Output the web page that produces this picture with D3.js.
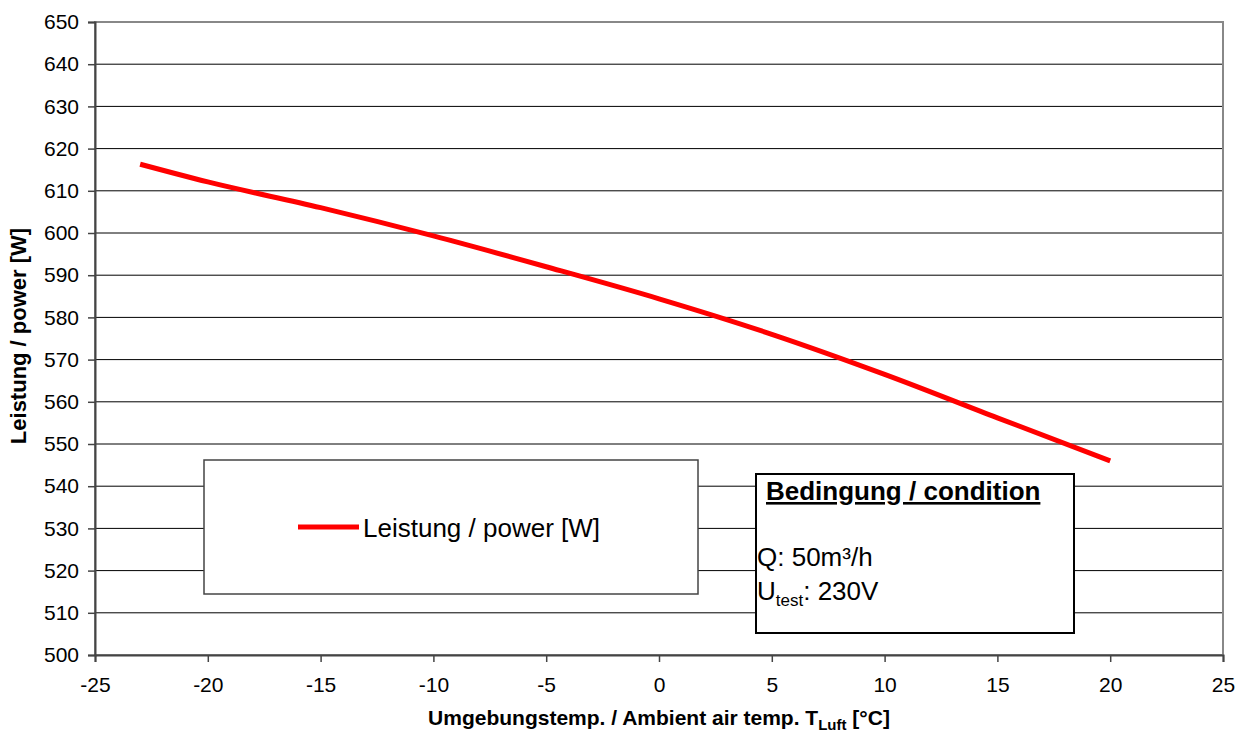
<!DOCTYPE html>
<html>
<head>
<meta charset="utf-8">
<script src="https://cdn.jsdelivr.net/npm/d3@7"></script>
<style>
  body { margin: 0; background: #fff; }
  svg { font-family: Arial, "Liberation Sans", sans-serif; }
</style>
</head>
<body>
<svg id="chart" width="1238" height="734"></svg>
<script>
// Data
const temps = [-23, -20, -15, -10, -5, 0, 5, 10, 15, 20];
const power = [616.3, 612.1, 606.0, 599.3, 592.0, 584.4, 576.0, 566.5, 556.2, 546.0];
const xTicks = [-25, -20, -15, -10, -5, 0, 5, 10, 15, 20, 25];
const yTicks = [500, 510, 520, 530, 540, 550, 560, 570, 580, 590, 600, 610, 620, 630, 640, 650];

const svg = d3.select("#chart");

// Plot area
const plotLeft = 95, plotRight = 1223, plotTop = 22, plotBottom = 655;

const x = d3.scaleLinear().domain([-25, 25]).range([plotLeft, plotRight]);
const y = d3.scaleLinear().domain([500, 650]).range([plotBottom, plotTop]);

// Grid lines
svg.append("g")
  .selectAll("line")
  .data(yTicks.filter(d => d > 500 && d < 650))
  .enter().append("line")
  .attr("x1", plotLeft).attr("x2", plotRight)
  .attr("y1", d => y(d)).attr("y2", d => y(d))
  .attr("stroke", "#000")
  .attr("stroke-width", 1);

// Plot border (top / right)
svg.append("rect")
  .attr("x", plotLeft).attr("y", plotTop)
  .attr("width", plotRight - plotLeft).attr("height", plotBottom - plotTop)
  .attr("fill", "none")
  .attr("stroke", "#888")
  .attr("stroke-width", 2);

// X Axis
const xAxis = svg.append("g")
  .attr("transform", "translate(0," + plotBottom + ")")
  .call(d3.axisBottom(x).tickValues(xTicks).tickSize(7).tickPadding(15).tickFormat(d => String(d)));

// Y Axis
const yAxis = svg.append("g")
  .attr("transform", "translate(" + plotLeft + ",0)")
  .call(d3.axisLeft(y).tickValues(yTicks).tickSize(7).tickPadding(9).tickFormat(d => String(d)));

[xAxis, yAxis].forEach(a => {
  a.select(".domain").attr("stroke", "#444").attr("stroke-width", 2);
  a.selectAll(".tick line").attr("stroke", "#444").attr("stroke-width", 1.5);
  a.selectAll(".tick text")
    .attr("font-family", "Arial, 'Liberation Sans', sans-serif")
    .attr("font-size", 21)
    .attr("fill", "#000");
});

// Power line
const line = d3.line()
  .x((d, i) => x(temps[i]))
  .y(d => y(d))
  .curve(d3.curveMonotoneX);

svg.append("path")
  .datum(power)
  .attr("d", line)
  .attr("fill", "none")
  .attr("stroke", "#ff0000")
  .attr("stroke-width", 5);

// Axis titles
svg.append("text")
  .attr("transform", "translate(26," + 336 + ") rotate(-90)")
  .attr("text-anchor", "middle")
  .attr("font-size", 22)
  .attr("font-weight", "bold")
  .text("Leistung / power [W]");

const xt = svg.append("text")
  .attr("x", (plotLeft + plotRight) / 2)
  .attr("y", 725)
  .attr("text-anchor", "middle")
  .attr("font-size", 21)
  .attr("font-weight", "bold");
xt.append("tspan").text("Umgebungstemp. / Ambient air temp. T");
xt.append("tspan").attr("font-size", 15).attr("dy", 5).text("Luft");
xt.append("tspan").attr("dy", -5).text(" [°C]");

// Legend
const legend = svg.append("g");
legend.append("rect")
  .attr("x", 204).attr("y", 460)
  .attr("width", 494).attr("height", 134)
  .attr("fill", "#fff")
  .attr("stroke", "#444")
  .attr("stroke-width", 1.5);
legend.append("line")
  .attr("x1", 298).attr("x2", 359)
  .attr("y1", 527).attr("y2", 527)
  .attr("stroke", "#ff0000")
  .attr("stroke-width", 5);
legend.append("text")
  .attr("x", 363).attr("y", 537)
  .attr("font-size", 26)
  .text("Leistung / power [W]");

// Condition box
const cond = svg.append("g");
cond.append("rect")
  .attr("x", 756).attr("y", 474)
  .attr("width", 318).attr("height", 159)
  .attr("fill", "#fff")
  .attr("stroke", "#000")
  .attr("stroke-width", 2);
cond.append("text")
  .attr("x", 766).attr("y", 500)
  .attr("font-size", 26)
  .attr("font-weight", "bold")
  .attr("text-decoration", "underline")
  .text("Bedingung / condition");
cond.append("text")
  .attr("x", 757).attr("y", 566)
  .attr("font-size", 26)
  .text("Q: 50m³/h");
const ut = cond.append("text")
  .attr("x", 757).attr("y", 600)
  .attr("font-size", 26);
ut.append("tspan").text("U");
ut.append("tspan").attr("font-size", 17).attr("dy", 6).text("test");
ut.append("tspan").attr("dy", -6).text(": 230V");
</script>
</body>
</html>
